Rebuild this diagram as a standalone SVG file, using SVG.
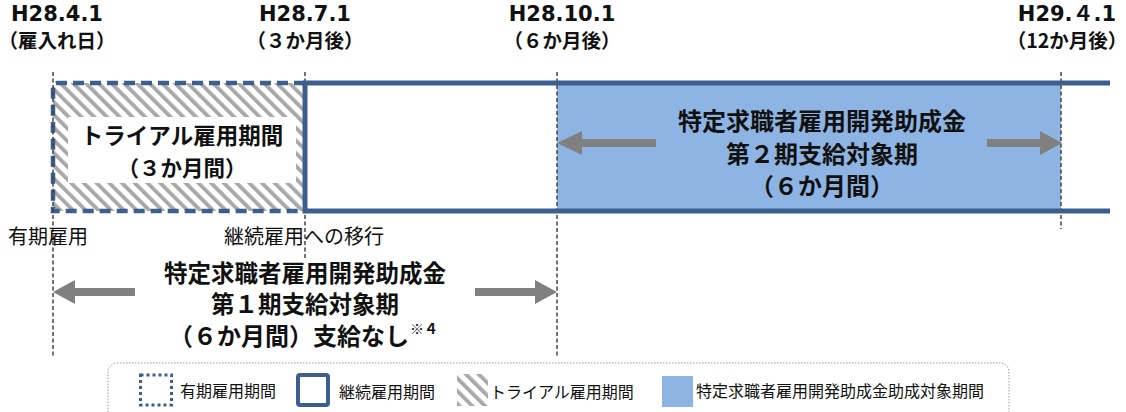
<svg xmlns="http://www.w3.org/2000/svg" width="1126" height="412" viewBox="0 0 1126 412">
<style>
.jp{font-family:"Noto Sans CJK JP","Noto Sans CJK SC",sans-serif;fill:#111}
.b{font-weight:bold}
.hd{font-family:"DejaVu Sans","Noto Sans CJK JP",sans-serif;font-weight:bold;font-size:21px;fill:#111}
.vl{stroke:#444;stroke-width:1.5;stroke-dasharray:4 2.5;fill:none}
.arr{fill:#808080}
.frame{stroke:#3C5F8E;fill:none}
</style>
<defs>
<pattern id="hatch" width="9" height="9" patternUnits="userSpaceOnUse" patternTransform="rotate(-45)">
<rect width="9" height="9" fill="#fff"/>
<rect width="3.8" height="9" fill="#a8a8a8"/>
</pattern>
</defs>
<rect width="1126" height="412" fill="#fff"/>
<g id="dates">
<text class="hd" x="57" y="21" text-anchor="middle">H28.4.1</text>
<text class="jp b" x="57" y="48" font-size="19.5" text-anchor="middle">（雇入れ日）</text>
<text class="hd" x="305" y="21" text-anchor="middle">H28.7.1</text>
<text class="jp b" x="305" y="48" font-size="19.5" text-anchor="middle">（３か月後）</text>
<text class="hd" x="562" y="21" text-anchor="middle">H28.10.1</text>
<text class="jp b" x="562" y="48" font-size="19.5" text-anchor="middle">（６か月後）</text>
<text class="hd" x="1067" y="21" text-anchor="middle">H29.４.1</text>
<text class="jp b" x="1067" y="48" font-size="19.5" text-anchor="middle">（12か月後）</text>
</g>
<g id="trial">
<rect x="53" y="83" width="252" height="128" fill="url(#hatch)"/>
<rect x="68" y="117" width="228" height="66" fill="#fff"/>
<path class="frame" d="M305 83 H57 Q53 83 53 87 V211 H305" stroke-width="4.5" stroke-dasharray="11 6"/>
<text class="jp b" x="182" y="144" font-size="22.5" text-anchor="middle">トライアル雇用期間</text>
<text class="jp b" x="182" y="176" font-size="21.5" text-anchor="middle">（３か月間）</text>
</g>
<g id="period2">
<rect x="557" y="85" width="504" height="124" fill="#8EB4E3"/>
</g>
<g id="connectors">
<line class="vl" x1="53" y1="72" x2="53" y2="356"/>
<line class="vl" x1="305" y1="72" x2="305" y2="260"/>
<line class="vl" x1="557" y1="72" x2="557" y2="358"/>
<line class="vl" x1="1061" y1="72" x2="1061" y2="229"/>
<path class="arr" d="M557 143 L582 131 V139 H656 V147 H582 V155 Z"/>
<path class="arr" d="M1062 143 L1040 131 V139 H987 V147 H1040 V155 Z"/>
<path class="arr" d="M53 292 L75 280 V288 H135 V296 H75 V304 Z"/>
<path class="arr" d="M557 292 L535 280 V288 H475 V296 H535 V304 Z"/>
</g>
<g id="continuous">
<path class="frame" d="M1110 83 H305 V211 H1110" stroke-width="5"/>
</g>
<g id="period2-label">
<text class="jp b" x="822" y="130" font-size="24" text-anchor="middle">特定求職者雇用開発助成金</text>
<text class="jp b" x="822" y="163" font-size="24" text-anchor="middle">第２期支給対象期</text>
<text class="jp b" x="822" y="195" font-size="24" text-anchor="middle">（６か月間）</text>
</g>
<g id="labels">
<text class="jp" x="8" y="244" font-size="20">有期雇用</text>
<text class="jp" x="224" y="244" font-size="20">継続雇用への移行</text>
</g>
<g id="period1-label">
<text class="jp b" x="305" y="282" font-size="23.5" text-anchor="middle">特定求職者雇用開発助成金</text>
<text class="jp b" x="305" y="313" font-size="23.5" text-anchor="middle">第１期支給対象期</text>
<text class="jp b" x="169" y="345" font-size="24">（６か月間）支給なし<tspan font-size="14" dx="1" dy="-11">※４</tspan></text>
</g>
<g id="legend">
<rect x="108" y="363" width="901" height="70" rx="9" fill="none" stroke="#999" stroke-width="1" stroke-dasharray="1.5 1.5"/>
<rect x="140.5" y="375" width="31" height="30" fill="none" stroke="#3C5F8E" stroke-width="3" stroke-dasharray="3 3"/>
<text class="jp" x="180" y="397" font-size="16">有期雇用期間</text>
<rect x="298" y="375" width="30" height="30" rx="2" fill="none" stroke="#3C5F8E" stroke-width="4"/>
<text class="jp" x="339" y="398" font-size="16">継続雇用期間</text>
<rect x="457" y="374" width="31" height="32" fill="url(#hatch)"/>
<text class="jp" x="490" y="398" font-size="16">トライアル雇用期間</text>
<rect x="662" y="376" width="31" height="31" fill="#8EB4E3"/>
<text class="jp" x="696" y="397" font-size="16">特定求職者雇用開発助成金助成対象期間</text>
</g>
</svg>
